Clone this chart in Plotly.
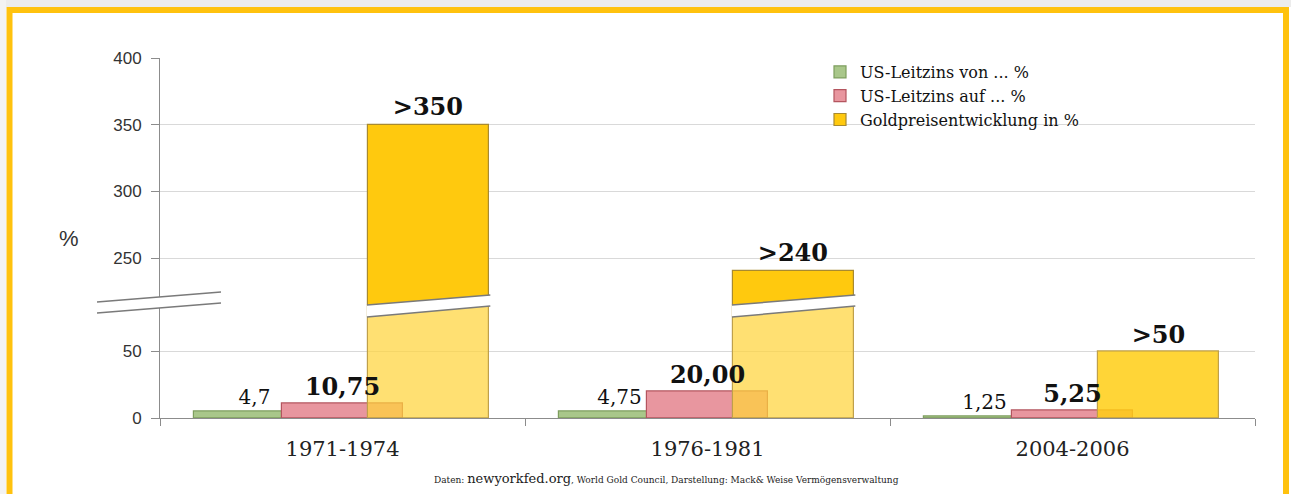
"""Leitzins vs. Goldpreis: Balkendiagramm mit unterbrochener y-Achse."""

import plotly.graph_objects as go

# --- Daten ---------------------------------------------------------------
zeitraeume = ["1971-1974", "1976-1981", "2004-2006"]
leitzins_von = [4.7, 4.75, 1.25]
leitzins_auf = [10.75, 20.00, 5.25]
gold_prozent = [350, 240, 50]

text_von = ["4,7", "4,75", "1,25"]
text_auf = ["10,75", "20,00", "5,25"]
text_gold = [">350", ">240", ">50"]

ticks_unten = [0, 50]
ticks_oben = [250, 300, 350, 400]

# --- Geometrie ------------------------------------------------------------
W, H = 1291, 494
ML, MR, MT, MB = 160, 36, 58, 76
PW, PH = W - ML - MR, H - MT - MB

LOW_MAX = 84.0          # oberes Ende der unteren Achse
HIGH_MIN = 214.4        # unteres Ende der oberen Achse
SPLIT = 0.3125          # Domaenengrenze (paper)

BAR_W = 0.332
OFF_VON, OFF_AUF, OFF_GOLD = -0.407, -0.167, 0.07


def px_x(px):
    return (px - ML) / PW


def px_y(py):
    return (H - MB - py) / PH


SERIF = "DejaVu Serif"
SANS = "Liberation Sans"
LABEL_BOLD = dict(family=SERIF, size=24, color="#111", weight="bold")
HIDDEN = dict(color="rgba(0,0,0,0)", line=dict(width=0))

traces = []
traces.append(go.Bar(
    x=zeitraeume, y=leitzins_von, name="US-Leitzins von ... %",
    width=BAR_W, offset=OFF_VON,
    marker=dict(color="#A9C78A", line=dict(color="#7E9E5E", width=1.2)),
    yaxis="y", hoverinfo="skip"))
traces.append(go.Bar(
    x=zeitraeume, y=leitzins_auf, name="US-Leitzins auf ... %",
    width=BAR_W, offset=OFF_AUF,
    marker=dict(color="#E8969F", line=dict(color="#B4555F", width=1.2)),
    yaxis="y", hoverinfo="skip"))

# Gold: unterer Teil (blass) und oberer Teil (kraeftig) auf getrennten Achsen
gold_low_col = ["rgba(255,212,60,0.72)" if v > LOW_MAX else "rgba(255,206,20,0.85)"
                for v in gold_prozent]
traces.append(go.Bar(
    x=zeitraeume, y=gold_prozent, name="Goldpreisentwicklung in %",
    width=BAR_W, offset=OFF_GOLD, showlegend=False,
    marker=dict(color=gold_low_col, line=dict(color="#BFA04A", width=1.2)),
    yaxis="y", hoverinfo="skip"))
traces.append(go.Bar(
    x=zeitraeume, y=gold_prozent, name="Goldpreisentwicklung in %",
    width=BAR_W, offset=OFF_GOLD,
    marker=dict(color="#FFC90E", line=dict(color="#A88A30", width=1.2)),
    text=[t if v > HIGH_MIN else "" for t, v in zip(text_gold, gold_prozent)],
    textposition="outside", cliponaxis=False, textfont=LABEL_BOLD,
    yaxis="y2", hoverinfo="skip"))

# Beschriftungen zuletzt, damit sie ueber den Goldbalken liegen
traces.append(go.Bar(
    x=zeitraeume, y=leitzins_von, width=BAR_W, offset=OFF_VON, marker=HIDDEN,
    text=text_von, textposition="outside", cliponaxis=False,
    textfont=dict(family=SERIF, size=20, color="#111"),
    showlegend=False, yaxis="y", hoverinfo="skip"))
traces.append(go.Bar(
    x=zeitraeume, y=leitzins_auf, width=BAR_W, offset=OFF_AUF, marker=HIDDEN,
    text=text_auf, textposition="outside", cliponaxis=False, textfont=LABEL_BOLD,
    showlegend=False, yaxis="y", hoverinfo="skip"))
traces.append(go.Bar(
    x=zeitraeume, y=[v if v <= LOW_MAX else 0 for v in gold_prozent],
    width=BAR_W, offset=OFF_GOLD, marker=HIDDEN,
    text=[t if v <= LOW_MAX else "" for t, v in zip(text_gold, gold_prozent)],
    textposition="outside", cliponaxis=False, textfont=LABEL_BOLD,
    showlegend=False, yaxis="y", hoverinfo="skip"))

fig = go.Figure(traces)

# --- Achsenbruch ------------------------------------------------------------
shapes = []


def break_band(x0, x1, yb0, yb1, yt0, yt1):
    """weisses schraeges Band mit grauen Kanten"""
    shapes.append(dict(
        type="path", xref="paper", yref="paper", layer="above",
        path=f"M {x0},{yb0} L {x1},{yb1} L {x1},{yt1} L {x0},{yt0} Z",
        fillcolor="white", line=dict(width=0)))
    for a, b in ((yb0, yb1), (yt0, yt1)):
        shapes.append(dict(
            type="line", xref="paper", yref="paper", layer="above",
            x0=x0, x1=x1, y0=a, y1=b, line=dict(color="#7A7A7A", width=1.5)))


n = len(zeitraeume)
for i, v in enumerate(gold_prozent):
    if v > LOW_MAX:
        x0 = (i + 0.5 + OFF_GOLD) / n - 0.001
        x1 = (i + 0.5 + OFF_GOLD + BAR_W) / n + 0.001
        break_band(x0, x1, px_y(317), px_y(306), px_y(305), px_y(295))

# Bruchzeichen an der y-Achse
break_band(px_x(97), px_x(221), px_y(313), px_y(303), px_y(302), px_y(292))

# goldener Rahmen + grauer Rand
shapes.append(dict(type="rect", xref="paper", yref="paper", layer="below",
                   x0=px_x(0), x1=px_x(W), y0=px_y(7), y1=px_y(0),
                   fillcolor="#ECECEC", line=dict(width=0)))
shapes.append(dict(type="rect", xref="paper", yref="paper", layer="below",
                   x0=px_x(0), x1=px_x(6), y0=px_y(H + 20), y1=px_y(0),
                   fillcolor="#F3F3F3", line=dict(width=0)))
shapes.append(dict(type="rect", xref="paper", yref="paper", layer="below",
                   x0=px_x(9.5), x1=px_x(1286), y0=px_y(H + 20), y1=px_y(10),
                   fillcolor="rgba(0,0,0,0)", line=dict(color="#FFC20E", width=6)))

fig.update_layout(
    width=W, height=H,
    margin=dict(l=ML, r=MR, t=MT, b=MB),
    paper_bgcolor="white", plot_bgcolor="white",
    barmode="overlay", bargap=0,
    shapes=shapes,
    showlegend=True,
    legend=dict(x=px_x(820), xanchor="left", y=px_y(55), yanchor="top",
                bgcolor="rgba(0,0,0,0)", itemwidth=30, tracegroupgap=0,
                font=dict(family=SERIF, size=16, color="#111"),
                traceorder="normal"),
    xaxis=dict(
        type="category", tickson="boundaries", ticks="outside", ticklen=7,
        tickcolor="#8C8C8C", showline=True, linecolor="#8C8C8C", linewidth=1,
        showgrid=False, ticklabelstandoff=12,
        tickfont=dict(family=SERIF, size=21, color="#222")),
    yaxis=dict(
        domain=[0, SPLIT], range=[0, LOW_MAX], tickvals=ticks_unten,
        ticks="outside", ticklen=8, tickcolor="#8C8C8C",
        showline=True, linecolor="#8C8C8C", linewidth=1,
        showgrid=True, gridcolor="#D9D9D9", zeroline=False,
        ticklabelstandoff=6,
        tickfont=dict(family=SANS, size=17, color="#333")),
    yaxis2=dict(
        domain=[SPLIT, 1], range=[HIGH_MIN, 400], tickvals=ticks_oben,
        anchor="x", ticks="outside", ticklen=8, tickcolor="#8C8C8C",
        showline=True, linecolor="#8C8C8C", linewidth=1,
        showgrid=True, gridcolor="#D9D9D9", zeroline=False,
        ticklabelstandoff=6,
        tickfont=dict(family=SANS, size=17, color="#333")),
    annotations=[
        dict(text="%", xref="paper", yref="paper", x=px_x(57), y=px_y(238),
             showarrow=False, font=dict(family=SANS, size=22, color="#333")),
        dict(text=("Daten: <span style='font-size:13px'>newyorkfed.org</span>, "
                   "World Gold Council, Darstellung: Mack&amp; Weise Vermögensverwaltung"),
             xref="paper", yref="paper", x=px_x(666), y=px_y(478),
             xanchor="center", yanchor="middle",
             showarrow=False, font=dict(family=SERIF, size=9, color="#222")),
    ],
)

fig.write_html("out.html", config={"displayModeBar": False},
               post_script="document.body.style.margin='0';")
